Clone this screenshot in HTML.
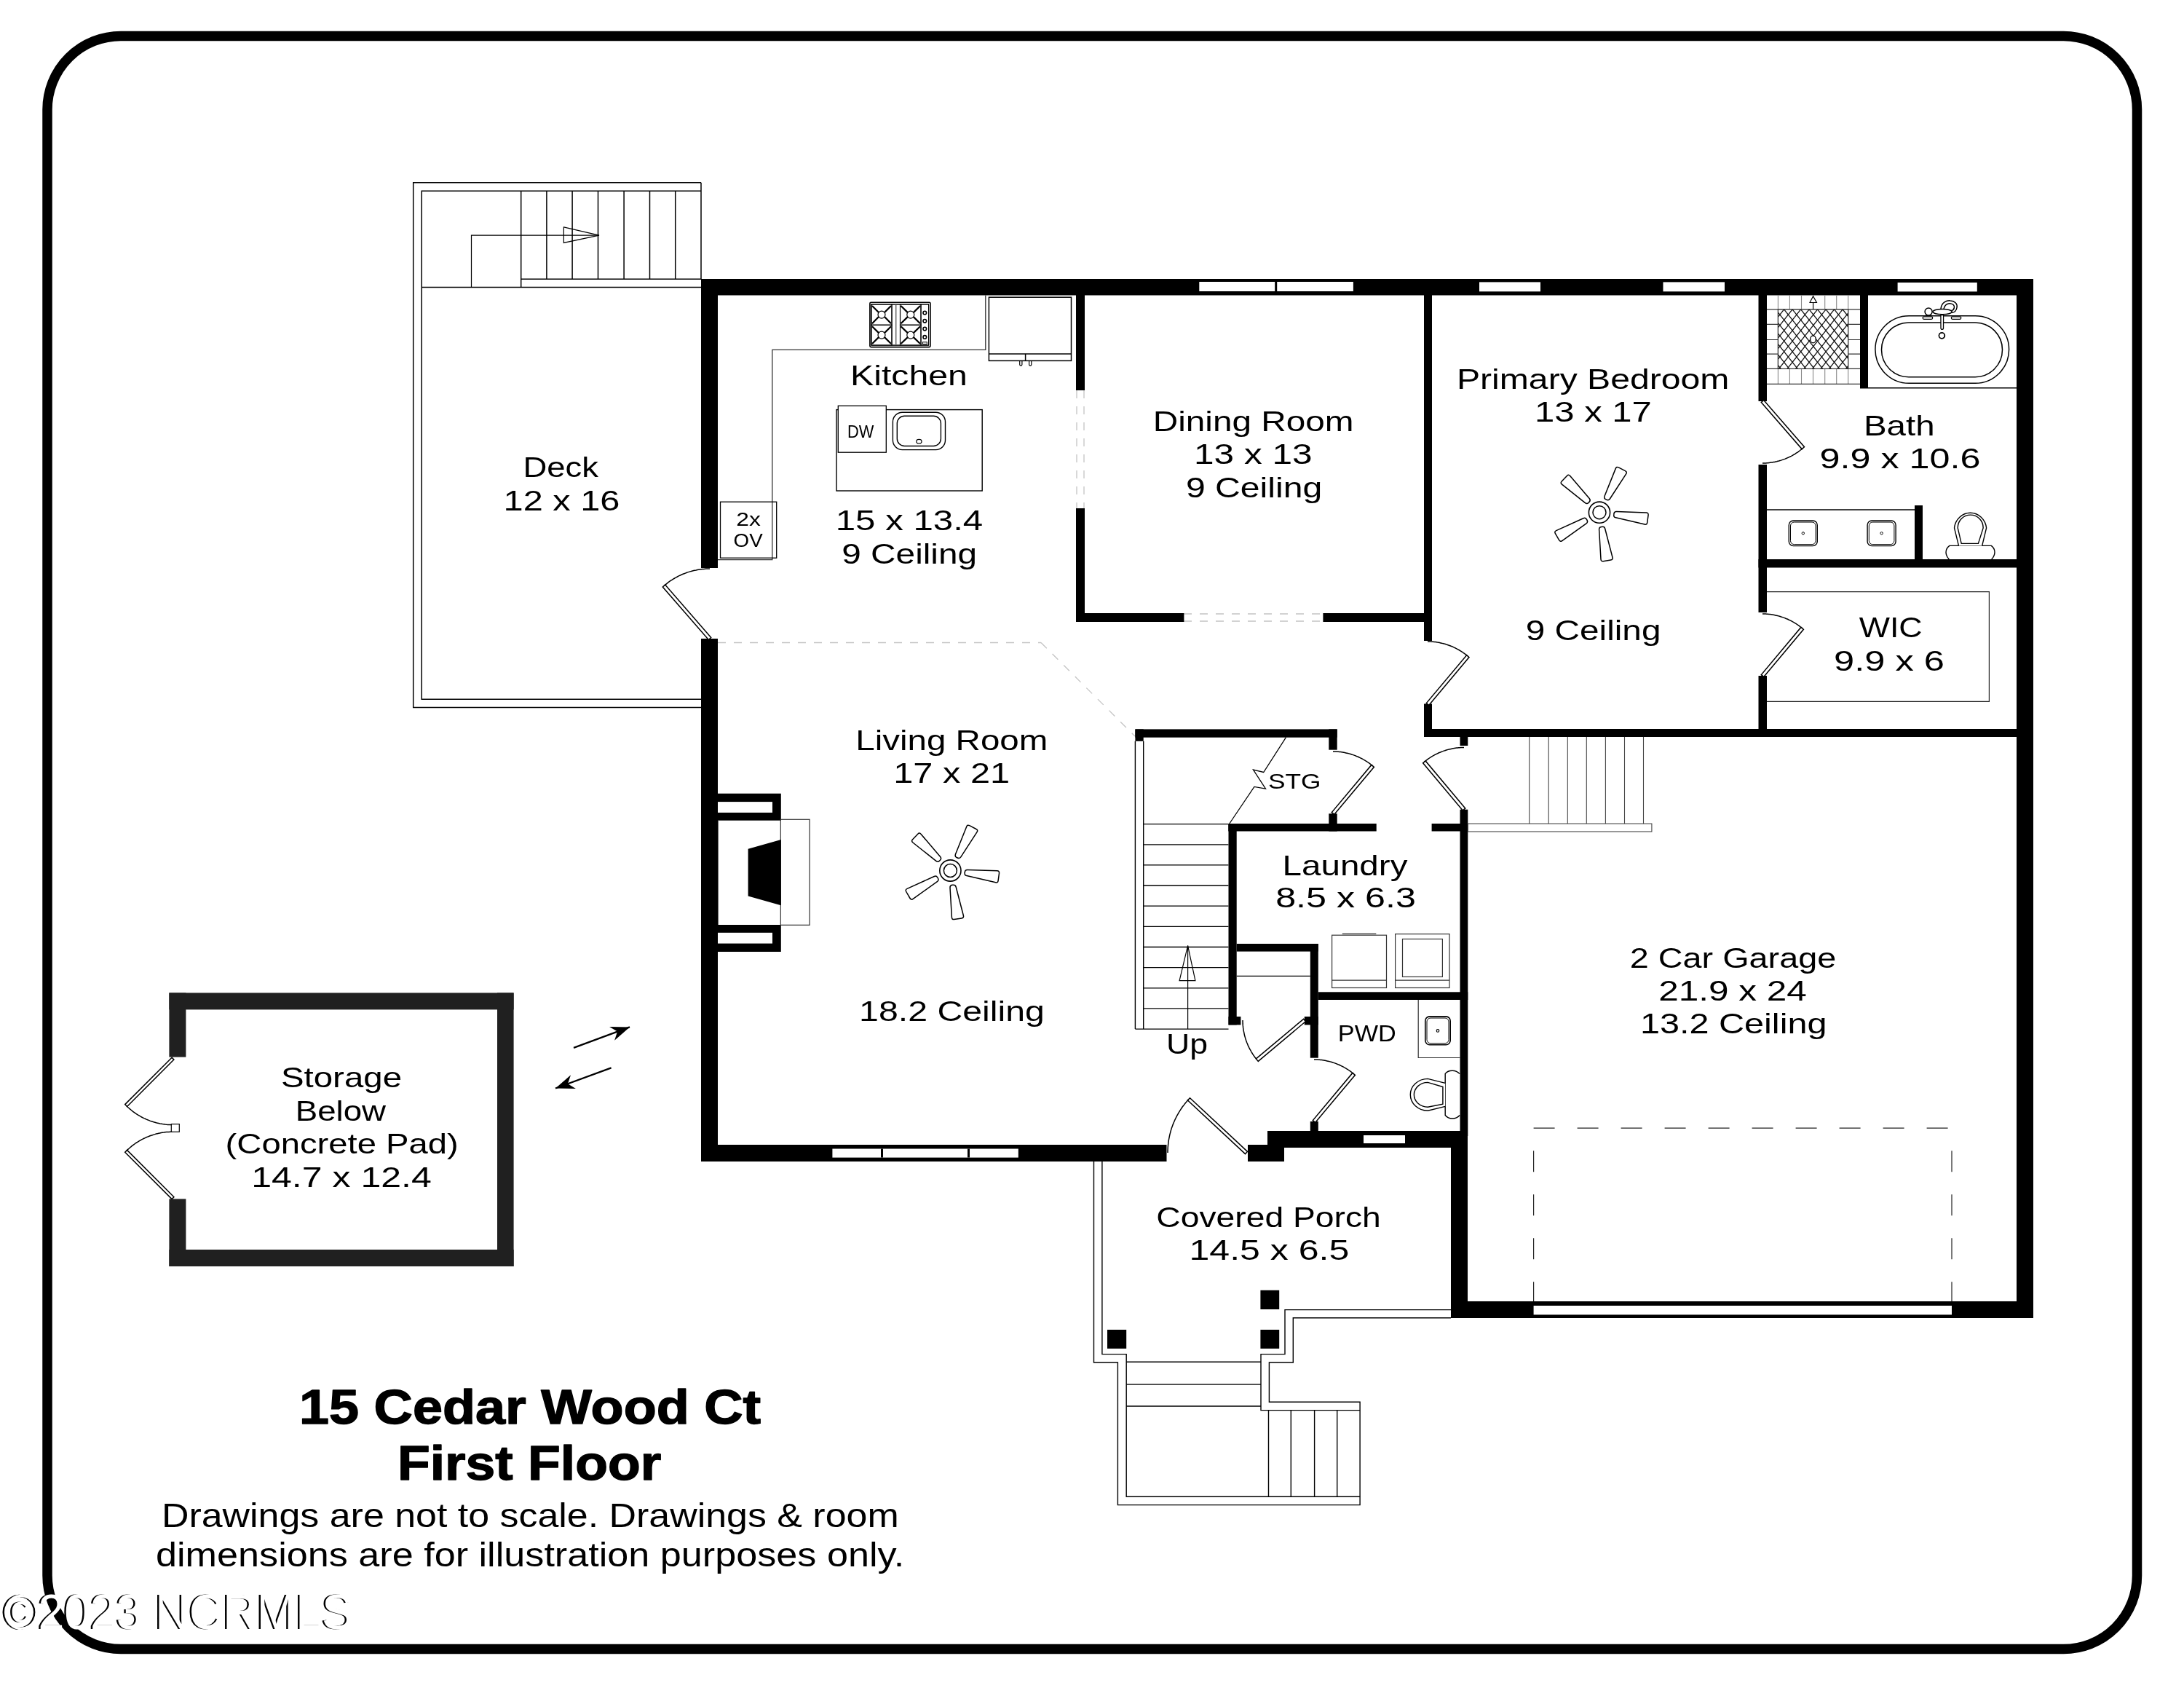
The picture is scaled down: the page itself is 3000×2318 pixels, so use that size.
<!DOCTYPE html>
<html><head><meta charset="utf-8"><title>15 Cedar Wood Ct - First Floor</title>
<style>
html,body{margin:0;padding:0;background:#fff;width:3000px;height:2318px;overflow:hidden;}
svg{display:block;position:absolute;left:0;top:0;filter:grayscale(1);}
text{font-family:"Liberation Sans",sans-serif;}
</style></head><body>
<svg width="3000" height="2318" viewBox="0 0 3000 2318">
<rect width="3000" height="2318" fill="#fff"/>
<rect x="65" y="49.5" width="2870.5" height="2215" rx="101" ry="101" fill="none" stroke="#000" stroke-width="13.5"/>
<polyline points="963,250.7 567.7,250.7 567.7,971.6 963,971.6" fill="none" stroke="#000" stroke-width="1.5" stroke-linejoin="miter"/>
<polyline points="963,262.2 579.2,262.2 579.2,960.2 963,960.2" fill="none" stroke="#000" stroke-width="1.5" stroke-linejoin="miter"/>
<line x1="963" y1="250.7" x2="963" y2="383" stroke="#000" stroke-width="1.5"/>
<line x1="715.7" y1="383.3" x2="963" y2="383.3" stroke="#000" stroke-width="1.5"/>
<line x1="579.2" y1="394.6" x2="963" y2="394.6" stroke="#000" stroke-width="1.5"/>
<line x1="715.7" y1="262.2" x2="715.7" y2="394.6" stroke="#000" stroke-width="1.5"/>
<line x1="750.9" y1="262.2" x2="750.9" y2="383.3" stroke="#000" stroke-width="1.5"/>
<line x1="786.1" y1="262.2" x2="786.1" y2="383.3" stroke="#000" stroke-width="1.5"/>
<line x1="821.5" y1="262.2" x2="821.5" y2="383.3" stroke="#000" stroke-width="1.5"/>
<line x1="857.1" y1="262.2" x2="857.1" y2="383.3" stroke="#000" stroke-width="1.5"/>
<line x1="892.5" y1="262.2" x2="892.5" y2="383.3" stroke="#000" stroke-width="1.5"/>
<line x1="927.7" y1="262.2" x2="927.7" y2="383.3" stroke="#000" stroke-width="1.5"/>
<polyline points="647.5,394.6 647.5,323.2 823,323.2" fill="none" stroke="#000" stroke-width="1.2" stroke-linejoin="miter"/>
<polygon points="774.4,311.9 823,323.2 774.4,333.4" fill="none" stroke="#000" stroke-width="1.2" stroke-linejoin="miter"/>
<line x1="986" y1="882.5" x2="1430" y2="882.5" stroke="#c4c4c4" stroke-width="1.3" stroke-dasharray="11 11"/>
<line x1="1430" y1="882.5" x2="1559" y2="1011" stroke="#c4c4c4" stroke-width="1.3" stroke-dasharray="11 11"/>
<line x1="1479" y1="536" x2="1479" y2="698" stroke="#c4c4c4" stroke-width="1.3" stroke-dasharray="11 11"/>
<line x1="1489" y1="536" x2="1489" y2="698" stroke="#c4c4c4" stroke-width="1.3" stroke-dasharray="11 11"/>
<line x1="1626" y1="843" x2="1817" y2="843" stroke="#c4c4c4" stroke-width="1.3" stroke-dasharray="11 11"/>
<line x1="1626" y1="853" x2="1817" y2="853" stroke="#c4c4c4" stroke-width="1.3" stroke-dasharray="11 11"/>
<rect x="963" y="383" width="1830" height="22.5" fill="#000"/>
<rect x="963" y="383" width="23" height="397" fill="#000"/>
<rect x="963" y="877" width="23" height="718" fill="#000"/>
<rect x="963" y="1572" width="639.5" height="23" fill="#000"/>
<rect x="1714" y="1572" width="50" height="23" fill="#000"/>
<rect x="1741" y="1553" width="275" height="23" fill="#000"/>
<rect x="1993" y="1553" width="23" height="257" fill="#000"/>
<rect x="1993" y="1787" width="800" height="23" fill="#000"/>
<rect x="2770" y="383" width="23" height="1427" fill="#000"/>
<rect x="1478" y="405" width="12" height="131" fill="#000"/>
<rect x="1478" y="698" width="12" height="156" fill="#000"/>
<rect x="1478" y="842" width="148.4" height="12" fill="#000"/>
<rect x="1817.4" y="842" width="149.6" height="12" fill="#000"/>
<rect x="1956" y="405" width="11" height="475" fill="#000"/>
<rect x="1956" y="966.5" width="11" height="45.5" fill="#000"/>
<rect x="1956" y="1001" width="837" height="11" fill="#000"/>
<rect x="2415.5" y="405" width="11.5" height="146" fill="#000"/>
<rect x="2415.5" y="638" width="11.5" height="203" fill="#000"/>
<rect x="2415.5" y="928" width="11.5" height="84" fill="#000"/>
<rect x="2415.5" y="768" width="377.5" height="11.5" fill="#000"/>
<rect x="2555" y="405" width="11" height="128.5" fill="#000"/>
<rect x="2630" y="694" width="11" height="85" fill="#000"/>
<rect x="1559.4" y="1001.4" width="277.3" height="11.3" fill="#000"/>
<rect x="1559.4" y="1001.4" width="11.3" height="16.4" fill="#000"/>
<rect x="1825.3" y="1001.4" width="11.4" height="28.3" fill="#000"/>
<rect x="1825.3" y="1117.3" width="11.4" height="24.2" fill="#000"/>
<rect x="1687.3" y="1131" width="203.4" height="10.5" fill="#000"/>
<rect x="1966.6" y="1131" width="49.7" height="10.5" fill="#000"/>
<rect x="1687.5" y="1131" width="11.2" height="276.4" fill="#000"/>
<rect x="1687.5" y="1396" width="16.9" height="11.4" fill="#000"/>
<rect x="2005.5" y="1001" width="10.8" height="23" fill="#000"/>
<rect x="2005.5" y="1111.7" width="10.8" height="448.3" fill="#000"/>
<rect x="1698.7" y="1296" width="112.1" height="10.6" fill="#000"/>
<rect x="1799.8" y="1296" width="11" height="156.7" fill="#000"/>
<rect x="1791.8" y="1396" width="19" height="11.4" fill="#000"/>
<rect x="1799.8" y="1540" width="11" height="16" fill="#000"/>
<rect x="1810.8" y="1362.3" width="205.5" height="10.7" fill="#000"/>
<rect x="1647.3" y="387" width="211.6" height="13" fill="#fff"/>
<rect x="1751.2" y="387" width="3" height="13" fill="#000"/>
<rect x="2032" y="387.4" width="84" height="12.9" fill="#fff"/>
<rect x="2284.5" y="387.4" width="84.5" height="12.9" fill="#fff"/>
<rect x="2606.6" y="388" width="109.2" height="12.4" fill="#fff"/>
<rect x="1143.4" y="1577.5" width="255.4" height="12.1" fill="#fff"/>
<rect x="1210" y="1577.5" width="3" height="12.1" fill="#000"/>
<rect x="1329" y="1577.5" width="3" height="12.1" fill="#000"/>
<rect x="1873" y="1559" width="57" height="11" fill="#fff"/>
<rect x="2106.6" y="1793" width="574.4" height="12.4" fill="#fff"/>
<polyline points="912,804.5 913.3,803.4 914.7,802.3 916,801.3 917.4,800.2 918.7,799.2 920.1,798.2 921.6,797.2 923,796.3 924.4,795.4 925.9,794.5 927.4,793.6 928.9,792.8 930.4,792 931.9,791.2 933.5,790.4 935,789.7 936.6,789 938.2,788.3 939.8,787.7 941.4,787.1 943,786.5 944.6,785.9 946.3,785.4 947.9,784.9 949.5,784.4 951.2,784 952.9,783.6 954.5,783.2 956.2,782.9 957.9,782.5 959.6,782.2 961.3,782 963,781.8 964.7,781.6 966.4,781.4 968.1,781.2 969.9,781.1 971.6,781.1 973.3,781 975,781" fill="none" stroke="#000" stroke-width="1.5" stroke-linejoin="miter"/>
<polygon points="976.7,875.5 913.7,803.1 910.3,806 973.3,878.5" fill="#fff" stroke="#000" stroke-width="1.5" stroke-linejoin="miter"/>
<polyline points="2016.3,901.1 2015.1,900.2 2013.9,899.2 2012.8,898.3 2011.5,897.4 2010.3,896.6 2009.1,895.7 2007.8,894.9 2006.6,894.1 2005.3,893.3 2004,892.5 2002.7,891.8 2001.4,891.1 2000,890.4 1998.7,889.7 1997.3,889.1 1996,888.4 1994.6,887.8 1993.2,887.3 1991.8,886.7 1990.4,886.2 1989,885.7 1987.6,885.2 1986.1,884.8 1984.7,884.3 1983.3,883.9 1981.8,883.6 1980.3,883.2 1978.9,882.9 1977.4,882.6 1975.9,882.3 1974.5,882.1 1973,881.8 1971.5,881.6 1970,881.5 1968.5,881.3 1967,881.2 1965.5,881.1 1964,881.1 1962.5,881 1961,881" fill="none" stroke="#000" stroke-width="1.5" stroke-linejoin="miter"/>
<polygon points="1962.7,968.4 2018,902.6 2014.6,899.7 1959.3,965.6" fill="#fff" stroke="#000" stroke-width="1.5" stroke-linejoin="miter"/>
<polyline points="2476.8,615.2 2475.6,616.1 2474.4,617.1 2473.2,618 2472,619 2470.8,619.9 2469.6,620.8 2468.3,621.6 2467,622.4 2465.8,623.3 2464.5,624 2463.1,624.8 2461.8,625.6 2460.5,626.3 2459.1,627 2457.8,627.6 2456.4,628.3 2455,628.9 2453.6,629.5 2452.2,630.1 2450.8,630.6 2449.3,631.1 2447.9,631.6 2446.5,632.1 2445,632.5 2443.5,633 2442.1,633.3 2440.6,633.7 2439.1,634 2437.6,634.4 2436.1,634.6 2434.6,634.9 2433.1,635.1 2431.6,635.3 2430.1,635.5 2428.6,635.7 2427.1,635.8 2425.6,635.9 2424,635.9 2422.5,636 2421,636" fill="none" stroke="#000" stroke-width="1.5" stroke-linejoin="miter"/>
<polygon points="2419.3,552.5 2475.1,616.6 2478.5,613.7 2422.7,549.5" fill="#fff" stroke="#000" stroke-width="1.5" stroke-linejoin="miter"/>
<polyline points="2475.6,862.9 2474.5,861.9 2473.3,861 2472.2,860.1 2471,859.2 2469.8,858.4 2468.5,857.5 2467.3,856.7 2466,855.9 2464.8,855.1 2463.5,854.4 2462.2,853.7 2460.9,852.9 2459.6,852.3 2458.3,851.6 2456.9,851 2455.6,850.3 2454.2,849.8 2452.8,849.2 2451.5,848.6 2450.1,848.1 2448.7,847.6 2447.3,847.2 2445.9,846.7 2444.4,846.3 2443,845.9 2441.6,845.5 2440.1,845.2 2438.7,844.9 2437.2,844.6 2435.8,844.3 2434.3,844 2432.8,843.8 2431.4,843.6 2429.9,843.5 2428.4,843.3 2426.9,843.2 2425.4,843.1 2424,843.1 2422.5,843 2421,843" fill="none" stroke="#000" stroke-width="1.5" stroke-linejoin="miter"/>
<polygon points="2422.7,929.4 2477.4,864.3 2473.9,861.4 2419.3,926.6" fill="#fff" stroke="#000" stroke-width="1.5" stroke-linejoin="miter"/>
<polyline points="1885.6,1051.9 1884.5,1050.9 1883.3,1050 1882.2,1049.1 1881,1048.2 1879.8,1047.4 1878.5,1046.5 1877.3,1045.7 1876,1044.9 1874.8,1044.1 1873.5,1043.4 1872.2,1042.7 1870.9,1041.9 1869.6,1041.3 1868.3,1040.6 1866.9,1040 1865.6,1039.3 1864.2,1038.8 1862.8,1038.2 1861.5,1037.6 1860.1,1037.1 1858.7,1036.6 1857.3,1036.2 1855.9,1035.7 1854.4,1035.3 1853,1034.9 1851.6,1034.5 1850.1,1034.2 1848.7,1033.9 1847.2,1033.6 1845.8,1033.3 1844.3,1033 1842.8,1032.8 1841.4,1032.6 1839.9,1032.5 1838.4,1032.3 1836.9,1032.2 1835.4,1032.1 1834,1032.1 1832.5,1032 1831,1032" fill="none" stroke="#000" stroke-width="1.5" stroke-linejoin="miter"/>
<polygon points="1832.7,1118.4 1887.4,1053.3 1883.9,1050.4 1829.3,1115.6" fill="#fff" stroke="#000" stroke-width="1.5" stroke-linejoin="miter"/>
<polyline points="1956.4,1046.4 1957.5,1045.4 1958.7,1044.5 1959.8,1043.6 1961,1042.7 1962.2,1041.9 1963.5,1041 1964.7,1040.2 1966,1039.4 1967.2,1038.6 1968.5,1037.9 1969.8,1037.2 1971.1,1036.4 1972.4,1035.8 1973.7,1035.1 1975.1,1034.5 1976.4,1033.8 1977.8,1033.3 1979.2,1032.7 1980.5,1032.1 1981.9,1031.6 1983.3,1031.1 1984.7,1030.7 1986.1,1030.2 1987.6,1029.8 1989,1029.4 1990.4,1029 1991.9,1028.7 1993.3,1028.4 1994.8,1028.1 1996.2,1027.8 1997.7,1027.5 1999.2,1027.3 2000.6,1027.1 2002.1,1027 2003.6,1026.8 2005.1,1026.7 2006.6,1026.6 2008,1026.6 2009.5,1026.5 2011,1026.5" fill="none" stroke="#000" stroke-width="1.5" stroke-linejoin="miter"/>
<polygon points="2012.7,1110.1 1958.1,1044.9 1954.6,1047.8 2009.3,1112.9" fill="#fff" stroke="#000" stroke-width="1.5" stroke-linejoin="miter"/>
<polyline points="1726.9,1455.6 1725.9,1454.5 1725,1453.3 1724.1,1452.2 1723.2,1451 1722.4,1449.8 1721.5,1448.5 1720.7,1447.3 1719.9,1446 1719.1,1444.8 1718.4,1443.5 1717.7,1442.2 1716.9,1440.9 1716.3,1439.6 1715.6,1438.3 1715,1436.9 1714.3,1435.6 1713.8,1434.2 1713.2,1432.8 1712.6,1431.5 1712.1,1430.1 1711.6,1428.7 1711.2,1427.3 1710.7,1425.9 1710.3,1424.4 1709.9,1423 1709.5,1421.6 1709.2,1420.1 1708.9,1418.7 1708.6,1417.2 1708.3,1415.8 1708,1414.3 1707.8,1412.8 1707.6,1411.4 1707.5,1409.9 1707.3,1408.4 1707.2,1406.9 1707.1,1405.4 1707.1,1404 1707,1402.5 1707,1401" fill="none" stroke="#000" stroke-width="1.5" stroke-linejoin="miter"/>
<polygon points="1790.6,1399.3 1725.4,1453.9 1728.3,1457.4 1793.4,1402.7" fill="#fff" stroke="#000" stroke-width="1.5" stroke-linejoin="miter"/>
<polyline points="1859.6,1474.9 1858.5,1473.9 1857.3,1473 1856.2,1472.1 1855,1471.2 1853.8,1470.4 1852.5,1469.5 1851.3,1468.7 1850,1467.9 1848.8,1467.1 1847.5,1466.4 1846.2,1465.7 1844.9,1464.9 1843.6,1464.3 1842.3,1463.6 1840.9,1463 1839.6,1462.3 1838.2,1461.8 1836.8,1461.2 1835.5,1460.6 1834.1,1460.1 1832.7,1459.6 1831.3,1459.2 1829.9,1458.7 1828.4,1458.3 1827,1457.9 1825.6,1457.5 1824.1,1457.2 1822.7,1456.9 1821.2,1456.6 1819.8,1456.3 1818.3,1456 1816.8,1455.8 1815.4,1455.6 1813.9,1455.5 1812.4,1455.3 1810.9,1455.2 1809.4,1455.1 1808,1455.1 1806.5,1455 1805,1455" fill="none" stroke="#000" stroke-width="1.5" stroke-linejoin="miter"/>
<polygon points="1806.7,1541.4 1861.4,1476.3 1857.9,1473.4 1803.3,1538.6" fill="#fff" stroke="#000" stroke-width="1.5" stroke-linejoin="miter"/>
<polyline points="1633,1509.3 1631.6,1510.8 1630.3,1512.4 1629,1513.9 1627.7,1515.5 1626.5,1517.1 1625.2,1518.7 1624,1520.3 1622.9,1522 1621.8,1523.7 1620.7,1525.4 1619.6,1527.1 1618.6,1528.8 1617.6,1530.6 1616.6,1532.4 1615.7,1534.2 1614.8,1536 1613.9,1537.8 1613.1,1539.7 1612.3,1541.5 1611.5,1543.4 1610.8,1545.3 1610.1,1547.2 1609.4,1549.1 1608.8,1551.1 1608.2,1553 1607.7,1555 1607.2,1556.9 1606.7,1558.9 1606.3,1560.9 1605.9,1562.9 1605.5,1564.8 1605.2,1566.9 1604.9,1568.9 1604.7,1570.9 1604.5,1572.9 1604.3,1574.9 1604.2,1576.9 1604.1,1578.9 1604,1581 1604,1583" fill="none" stroke="#000" stroke-width="1.5" stroke-linejoin="miter"/>
<polygon points="1713.5,1581.4 1634.5,1507.7 1631.5,1511 1710.5,1584.6" fill="#fff" stroke="#000" stroke-width="1.5" stroke-linejoin="miter"/>
<polyline points="173.2,1518 174.4,1519.3 175.7,1520.5 177.1,1521.7 178.4,1522.9 179.8,1524 181.2,1525.2 182.6,1526.3 184,1527.3 185.5,1528.4 186.9,1529.4 188.4,1530.3 190,1531.3 191.5,1532.2 193,1533.1 194.6,1534 196.2,1534.8 197.8,1535.6 199.4,1536.3 201,1537.1 202.7,1537.8 204.3,1538.4 206,1539.1 207.7,1539.7 209.4,1540.2 211.1,1540.8 212.8,1541.3 214.5,1541.8 216.3,1542.2 218,1542.6 219.7,1543 221.5,1543.3 223.3,1543.6 225,1543.8 226.8,1544.1 228.6,1544.3 230.4,1544.4 232.1,1544.5 233.9,1544.6 235.7,1544.7 237.5,1544.7" fill="none" stroke="#000" stroke-width="1.5" stroke-linejoin="miter"/>
<polygon points="236.1,1452.3 171.7,1516.6 174.6,1519.5 238.9,1455.1" fill="#fff" stroke="#000" stroke-width="1.5" stroke-linejoin="miter"/>
<polyline points="173.2,1580.9 174.4,1579.6 175.7,1578.4 177.1,1577.2 178.4,1576 179.8,1574.9 181.2,1573.7 182.6,1572.6 184,1571.6 185.5,1570.5 186.9,1569.5 188.4,1568.6 190,1567.6 191.5,1566.7 193,1565.8 194.6,1564.9 196.2,1564.1 197.8,1563.3 199.4,1562.6 201,1561.8 202.7,1561.1 204.3,1560.5 206,1559.8 207.7,1559.2 209.4,1558.7 211.1,1558.1 212.8,1557.6 214.5,1557.1 216.3,1556.7 218,1556.3 219.7,1555.9 221.5,1555.6 223.3,1555.3 225,1555.1 226.8,1554.8 228.6,1554.6 230.4,1554.5 232.1,1554.4 233.9,1554.3 235.7,1554.2 237.5,1554.2" fill="none" stroke="#000" stroke-width="1.5" stroke-linejoin="miter"/>
<polygon points="238.9,1643.8 174.6,1579.4 171.7,1582.3 236.1,1646.6" fill="#fff" stroke="#000" stroke-width="1.5" stroke-linejoin="miter"/>
<rect x="235.3" y="1543.6" width="11" height="10.7" fill="#fff" stroke="#000" stroke-width="1.2"/>
<polyline points="1353.8,405.5 1353.8,480.3 1060.8,480.3 1060.8,768.7 986,768.7" fill="none" stroke="#333" stroke-width="1.3" stroke-linejoin="miter"/>
<rect x="1194.9" y="415.3" width="83.1" height="61.3" rx="1.5" fill="none" stroke="#000" stroke-width="1.6"/>
<rect x="1196.8" y="417.8" width="78.8" height="56.4" fill="none" stroke="#000" stroke-width="1.0"/>
<rect x="1197" y="418" width="28" height="28.3" fill="none" stroke="#000" stroke-width="1.2"/>
<line x1="1198" y1="420" x2="1207" y2="429.1" stroke="#000" stroke-width="2.2"/>
<line x1="1224" y1="420" x2="1215" y2="429.1" stroke="#000" stroke-width="2.2"/>
<line x1="1198" y1="444.3" x2="1207" y2="435.1" stroke="#000" stroke-width="2.2"/>
<line x1="1224" y1="444.3" x2="1215" y2="435.1" stroke="#000" stroke-width="2.2"/>
<circle cx="1211" cy="432.1" r="5" fill="none" stroke="#000" stroke-width="1.2"/>
<rect x="1197" y="446.3" width="28" height="27.7" fill="none" stroke="#000" stroke-width="1.2"/>
<line x1="1198" y1="448.3" x2="1207" y2="457.1" stroke="#000" stroke-width="2.2"/>
<line x1="1224" y1="448.3" x2="1215" y2="457.1" stroke="#000" stroke-width="2.2"/>
<line x1="1198" y1="472" x2="1207" y2="463.1" stroke="#000" stroke-width="2.2"/>
<line x1="1224" y1="472" x2="1215" y2="463.1" stroke="#000" stroke-width="2.2"/>
<circle cx="1211" cy="460.1" r="5" fill="none" stroke="#000" stroke-width="1.2"/>
<rect x="1236.5" y="418" width="28.5" height="28.3" fill="none" stroke="#000" stroke-width="1.2"/>
<line x1="1237.5" y1="420" x2="1246.8" y2="429.1" stroke="#000" stroke-width="2.2"/>
<line x1="1264" y1="420" x2="1254.8" y2="429.1" stroke="#000" stroke-width="2.2"/>
<line x1="1237.5" y1="444.3" x2="1246.8" y2="435.1" stroke="#000" stroke-width="2.2"/>
<line x1="1264" y1="444.3" x2="1254.8" y2="435.1" stroke="#000" stroke-width="2.2"/>
<circle cx="1250.8" cy="432.1" r="5" fill="none" stroke="#000" stroke-width="1.2"/>
<rect x="1236.5" y="446.3" width="28.5" height="27.7" fill="none" stroke="#000" stroke-width="1.2"/>
<line x1="1237.5" y1="448.3" x2="1246.8" y2="457.1" stroke="#000" stroke-width="2.2"/>
<line x1="1264" y1="448.3" x2="1254.8" y2="457.1" stroke="#000" stroke-width="2.2"/>
<line x1="1237.5" y1="472" x2="1246.8" y2="463.1" stroke="#000" stroke-width="2.2"/>
<line x1="1264" y1="472" x2="1254.8" y2="463.1" stroke="#000" stroke-width="2.2"/>
<circle cx="1250.8" cy="460.1" r="5" fill="none" stroke="#000" stroke-width="1.2"/>
<rect x="1225" y="418" width="11.5" height="56" fill="none" stroke="#000" stroke-width="1.0"/>
<line x1="1230.7" y1="418" x2="1230.7" y2="474" stroke="#666" stroke-width="1.5"/>
<rect x="1265" y="418" width="10.6" height="56" fill="none" stroke="#000" stroke-width="1.0"/>
<circle cx="1270.3" cy="429.5" r="2.3" fill="none" stroke="#000" stroke-width="1.6"/>
<circle cx="1270.3" cy="440.8" r="2.3" fill="none" stroke="#000" stroke-width="1.6"/>
<circle cx="1270.3" cy="451.6" r="2.3" fill="none" stroke="#000" stroke-width="1.6"/>
<circle cx="1270.3" cy="462.9" r="2.3" fill="none" stroke="#000" stroke-width="1.6"/>
<rect x="1267.5" y="469.8" width="5.8" height="2.8" fill="none" stroke="#000" stroke-width="1.0"/>
<rect x="1358.4" y="408.2" width="113.1" height="87.2" fill="none" stroke="#000" stroke-width="1.5"/>
<line x1="1358.4" y1="485.9" x2="1471.5" y2="485.9" stroke="#000" stroke-width="1.5"/>
<line x1="1408.6" y1="485.9" x2="1408.6" y2="495.4" stroke="#000" stroke-width="1.5"/>
<path d="M1400.7,495.4 L1400.7,500.5 A1.6,1.6 0 0 0 1403.8999999999999,500.5 L1403.8999999999999,495.4" fill="none" stroke="#000" stroke-width="1.2"/>
<path d="M1413.6000000000001,495.4 L1413.6000000000001,500.5 A1.6,1.6 0 0 0 1416.8,500.5 L1416.8,495.4" fill="none" stroke="#000" stroke-width="1.2"/>
<rect x="1149" y="562.6" width="200.2" height="111.4" fill="none" stroke="#000" stroke-width="1.4"/>
<rect x="1151.3" y="557.3" width="66" height="63.9" fill="#fff" stroke="#000" stroke-width="1.3"/>
<rect x="1226.4" y="566.2" width="72.1" height="51.4" rx="13" fill="none" stroke="#000" stroke-width="1.4"/>
<rect x="1232.3" y="571.3" width="60.1" height="41.2" rx="10" fill="none" stroke="#000" stroke-width="1.4"/>
<ellipse cx="1262.4" cy="606.2" rx="3.6" ry="2.8" fill="none" stroke="#000" stroke-width="1.2"/>
<rect x="989.5" y="689.2" width="77.2" height="77" fill="none" stroke="#000" stroke-width="1.3"/>
<line x1="2442.4" y1="405.5" x2="2442.4" y2="527.3" stroke="#888" stroke-width="1.1"/>
<line x1="2458.4" y1="405.5" x2="2458.4" y2="527.3" stroke="#888" stroke-width="1.1"/>
<line x1="2474.5" y1="405.5" x2="2474.5" y2="527.3" stroke="#888" stroke-width="1.1"/>
<line x1="2490.5" y1="405.5" x2="2490.5" y2="527.3" stroke="#888" stroke-width="1.1"/>
<line x1="2506.7" y1="405.5" x2="2506.7" y2="527.3" stroke="#888" stroke-width="1.1"/>
<line x1="2522.7" y1="405.5" x2="2522.7" y2="527.3" stroke="#888" stroke-width="1.1"/>
<line x1="2538.7" y1="405.5" x2="2538.7" y2="527.3" stroke="#888" stroke-width="1.1"/>
<line x1="2427" y1="424.9" x2="2555" y2="424.9" stroke="#333" stroke-width="1.2"/>
<line x1="2427" y1="445.4" x2="2555" y2="445.4" stroke="#333" stroke-width="1.2"/>
<line x1="2427" y1="466.5" x2="2555" y2="466.5" stroke="#333" stroke-width="1.2"/>
<line x1="2427" y1="486.2" x2="2555" y2="486.2" stroke="#333" stroke-width="1.2"/>
<line x1="2427" y1="506.4" x2="2555" y2="506.4" stroke="#333" stroke-width="1.2"/>
<line x1="2427" y1="527.3" x2="2555" y2="527.3" stroke="#333" stroke-width="1.2"/>
<clipPath id="sh"><rect x="2442.4" y="424.9" width="96.3" height="81.5"/></clipPath>
<rect x="2442.4" y="424.9" width="96.3" height="81.5" fill="#fff"/>
<g clip-path="url(#sh)" stroke="#111" stroke-width="1.3"><line x1="2312.6" y1="424.9" x2="2457" y2="607"/><line x1="2312.6" y1="424.9" x2="2168.2" y2="607"/><line x1="2324.1" y1="424.9" x2="2468.5" y2="607"/><line x1="2324.1" y1="424.9" x2="2179.7" y2="607"/><line x1="2335.6" y1="424.9" x2="2480" y2="607"/><line x1="2335.6" y1="424.9" x2="2191.2" y2="607"/><line x1="2347.1" y1="424.9" x2="2491.5" y2="607"/><line x1="2347.1" y1="424.9" x2="2202.7" y2="607"/><line x1="2358.6" y1="424.9" x2="2503" y2="607"/><line x1="2358.6" y1="424.9" x2="2214.2" y2="607"/><line x1="2370.1" y1="424.9" x2="2514.5" y2="607"/><line x1="2370.1" y1="424.9" x2="2225.7" y2="607"/><line x1="2381.6" y1="424.9" x2="2526" y2="607"/><line x1="2381.6" y1="424.9" x2="2237.2" y2="607"/><line x1="2393.1" y1="424.9" x2="2537.5" y2="607"/><line x1="2393.1" y1="424.9" x2="2248.7" y2="607"/><line x1="2404.6" y1="424.9" x2="2549" y2="607"/><line x1="2404.6" y1="424.9" x2="2260.2" y2="607"/><line x1="2416.1" y1="424.9" x2="2560.5" y2="607"/><line x1="2416.1" y1="424.9" x2="2271.7" y2="607"/><line x1="2427.6" y1="424.9" x2="2572" y2="607"/><line x1="2427.6" y1="424.9" x2="2283.2" y2="607"/><line x1="2439.1" y1="424.9" x2="2583.5" y2="607"/><line x1="2439.1" y1="424.9" x2="2294.7" y2="607"/><line x1="2450.6" y1="424.9" x2="2595" y2="607"/><line x1="2450.6" y1="424.9" x2="2306.2" y2="607"/><line x1="2462.1" y1="424.9" x2="2606.5" y2="607"/><line x1="2462.1" y1="424.9" x2="2317.7" y2="607"/><line x1="2473.6" y1="424.9" x2="2618" y2="607"/><line x1="2473.6" y1="424.9" x2="2329.2" y2="607"/><line x1="2485.1" y1="424.9" x2="2629.5" y2="607"/><line x1="2485.1" y1="424.9" x2="2340.7" y2="607"/><line x1="2496.6" y1="424.9" x2="2641" y2="607"/><line x1="2496.6" y1="424.9" x2="2352.2" y2="607"/><line x1="2508.1" y1="424.9" x2="2652.5" y2="607"/><line x1="2508.1" y1="424.9" x2="2363.7" y2="607"/><line x1="2519.6" y1="424.9" x2="2664" y2="607"/><line x1="2519.6" y1="424.9" x2="2375.2" y2="607"/><line x1="2531.1" y1="424.9" x2="2675.5" y2="607"/><line x1="2531.1" y1="424.9" x2="2386.7" y2="607"/><line x1="2542.6" y1="424.9" x2="2687" y2="607"/><line x1="2542.6" y1="424.9" x2="2398.2" y2="607"/><line x1="2554.1" y1="424.9" x2="2698.5" y2="607"/><line x1="2554.1" y1="424.9" x2="2409.7" y2="607"/><line x1="2565.6" y1="424.9" x2="2710" y2="607"/><line x1="2565.6" y1="424.9" x2="2421.2" y2="607"/><line x1="2577.1" y1="424.9" x2="2721.5" y2="607"/><line x1="2577.1" y1="424.9" x2="2432.7" y2="607"/><line x1="2588.6" y1="424.9" x2="2733" y2="607"/><line x1="2588.6" y1="424.9" x2="2444.2" y2="607"/><line x1="2600.1" y1="424.9" x2="2744.5" y2="607"/><line x1="2600.1" y1="424.9" x2="2455.7" y2="607"/></g>
<rect x="2442.4" y="424.9" width="96.3" height="81.5" fill="none" stroke="#333" stroke-width="1.2"/>
<ellipse cx="2490.5" cy="465.9" rx="3.8" ry="4.9" fill="#fff" stroke="#000" stroke-width="1.3"/>
<polygon points="2486,415.5 2490.6,406.8 2495.4,415.5" fill="#fff" stroke="#000" stroke-width="1.2" stroke-linejoin="miter"/>
<line x1="2490.6" y1="415.5" x2="2490.6" y2="424.9" stroke="#000" stroke-width="1.1"/>
<rect x="2575.9" y="433.7" width="183.7" height="92.6" rx="46.3" fill="none" stroke="#000" stroke-width="1.5"/>
<rect x="2584.5" y="442.9" width="166" height="74.8" rx="37.4" fill="none" stroke="#000" stroke-width="1.5"/>
<line x1="2566" y1="532.8" x2="2770" y2="532.8" stroke="#000" stroke-width="1.4"/>
<circle cx="2667.2" cy="460.8" r="3.9" fill="none" stroke="#000" stroke-width="1.3"/>
<circle cx="2667.5" cy="461" r="4" fill="none" stroke="#000" stroke-width="1.4"/>
<path d="M2666,451 L2665.9,432.5 L2669.6,432.5 L2669.5,451 A1.8,1.8 0 0 1 2666,451 Z" fill="#fff" stroke="#000" stroke-width="1.3"/>
<ellipse cx="2668.1" cy="428.1" rx="13.1" ry="3.7" fill="#fff" stroke="#000" stroke-width="1.5"/>
<circle cx="2649.1" cy="428.1" r="5" fill="#fff" stroke="#000" stroke-width="1.5"/>
<path d="M2666,424 C2667,415 2674,412.5 2679,412.9 C2685,413.2 2689,417 2688.1,422 C2687.5,426 2684.5,429 2681.2,429.6" fill="none" stroke="#000" stroke-width="1.5"/>
<path d="M2670,424 C2671,419 2675,416.5 2678.5,416.7 C2682.5,417 2685,419.5 2684.4,422.5 C2684,424.5 2682.5,426.2 2680.5,426.6" fill="none" stroke="#000" stroke-width="1.5"/>
<rect x="2641.2" y="434.8" width="13.4" height="3.5" rx="1.5" fill="#fff" stroke="#000" stroke-width="1.3"/>
<rect x="2680.4" y="434.8" width="13.3" height="3.5" rx="1.5" fill="#fff" stroke="#000" stroke-width="1.3"/>
<line x1="2427" y1="700" x2="2630.6" y2="700" stroke="#000" stroke-width="1.4"/>
<rect x="2457.3" y="715" width="39" height="34.6" rx="6" fill="none" stroke="#000" stroke-width="1.4"/>
<rect x="2459.5" y="717" width="34.6" height="30.6" rx="5" fill="none" stroke="#000" stroke-width="1.0"/>
<circle cx="2476.8" cy="732.3" r="1.7" fill="none" stroke="#000" stroke-width="1.0"/>
<rect x="2565.1" y="715" width="39" height="34.6" rx="6" fill="none" stroke="#000" stroke-width="1.4"/>
<rect x="2567.3" y="717" width="34.6" height="30.6" rx="5" fill="none" stroke="#000" stroke-width="1.0"/>
<circle cx="2584.6" cy="732.3" r="1.7" fill="none" stroke="#000" stroke-width="1.0"/>
<path d="M2677.3,768 C2671.5,762 2671.5,754 2677.9,749.4 L2735.3,749.4 C2741.5,754 2741.5,762 2735.7,768" fill="#fff" stroke="#000" stroke-width="1.4"/>
<path d="M2690.5,749.4 L2684.5,725 A22.2,23.4 0 0 1 2728.6,725 L2722.7,749.4" fill="#fff" stroke="#000" stroke-width="1.4"/>
<path d="M2694.2,746.4 L2689.2,725 A17.5,17.9 0 0 1 2724.2,725 L2717.4,746.4 Z" fill="none" stroke="#000" stroke-width="1.4"/>
<polyline points="2427,812.6 2732.4,812.6 2732.4,963.3 2427,963.3" fill="none" stroke="#222" stroke-width="1.2" stroke-linejoin="miter"/>
<path d="M2183,689.4 Q2185.3,687.1 2183.2,684.6 L2156.7,653.6 Q2154.6,651.1 2152.4,653.4 L2145.2,660.9 Q2143,663.2 2145.5,665.2 L2177.5,690.6 Q2180,692.5 2182.2,690.2 Z" fill="#fff" stroke="#000" stroke-width="1.5"/>
<path d="M2206.8,686.2 Q2209.6,687.7 2211.4,685 L2233.6,650.8 Q2235.4,648.1 2232.5,646.7 L2223.3,641.9 Q2220.5,640.4 2219.3,643.4 L2204.1,681.2 Q2202.9,684.2 2205.7,685.7 Z" fill="#fff" stroke="#000" stroke-width="1.5"/>
<path d="M2216.8,706.9 Q2216.3,710.1 2219.4,710.8 L2259.2,720 Q2262.3,720.8 2262.7,717.6 L2264.1,707.3 Q2264.5,704.1 2261.3,704 L2220.5,702.6 Q2217.3,702.5 2216.9,705.7 Z" fill="#fff" stroke="#000" stroke-width="1.5"/>
<path d="M2199.5,723.5 Q2196.4,724 2196.6,727.2 L2199,768 Q2199.2,771.2 2202.3,770.7 L2212.6,769.1 Q2215.8,768.6 2215,765.5 L2204.7,726 Q2203.9,722.9 2200.7,723.4 Z" fill="#fff" stroke="#000" stroke-width="1.5"/>
<path d="M2179.4,713.2 Q2177.8,710.4 2174.9,711.7 L2137.7,728.6 Q2134.8,729.9 2136.4,732.7 L2141.6,741.7 Q2143.2,744.5 2145.8,742.6 L2179,718.9 Q2181.6,717 2180,714.2 Z" fill="#fff" stroke="#000" stroke-width="1.5"/>
<circle cx="2197" cy="703.7" r="14.6" fill="#fff" stroke="#000" stroke-width="1.6"/>
<circle cx="2197" cy="703.7" r="9" fill="none" stroke="#000" stroke-width="1.5"/>
<path d="M1291.4,1181.2 Q1293.7,1178.9 1291.6,1176.4 L1265.1,1145.4 Q1263,1142.9 1260.8,1145.2 L1253.6,1152.7 Q1251.4,1155 1253.9,1157 L1285.9,1182.4 Q1288.4,1184.3 1290.6,1182 Z" fill="#fff" stroke="#000" stroke-width="1.5"/>
<path d="M1315.2,1178 Q1318,1179.5 1319.8,1176.8 L1342,1142.6 Q1343.8,1139.9 1340.9,1138.5 L1331.7,1133.7 Q1328.9,1132.2 1327.7,1135.2 L1312.5,1173 Q1311.3,1176 1314.1,1177.5 Z" fill="#fff" stroke="#000" stroke-width="1.5"/>
<path d="M1325.2,1198.7 Q1324.7,1201.9 1327.8,1202.6 L1367.6,1211.8 Q1370.7,1212.6 1371.1,1209.4 L1372.5,1199.1 Q1372.9,1195.9 1369.7,1195.8 L1328.9,1194.4 Q1325.7,1194.3 1325.3,1197.5 Z" fill="#fff" stroke="#000" stroke-width="1.5"/>
<path d="M1307.9,1215.3 Q1304.8,1215.8 1305,1219 L1307.4,1259.8 Q1307.6,1263 1310.7,1262.5 L1321,1260.9 Q1324.2,1260.4 1323.4,1257.3 L1313.1,1217.8 Q1312.3,1214.7 1309.1,1215.2 Z" fill="#fff" stroke="#000" stroke-width="1.5"/>
<path d="M1287.8,1205 Q1286.2,1202.2 1283.3,1203.5 L1246.1,1220.4 Q1243.2,1221.7 1244.8,1224.5 L1250,1233.5 Q1251.6,1236.3 1254.2,1234.4 L1287.4,1210.7 Q1290,1208.8 1288.4,1206 Z" fill="#fff" stroke="#000" stroke-width="1.5"/>
<circle cx="1305.4" cy="1195.5" r="14.6" fill="#fff" stroke="#000" stroke-width="1.6"/>
<circle cx="1305.4" cy="1195.5" r="9" fill="none" stroke="#000" stroke-width="1.5"/>
<rect x="986" y="1089.7" width="86.8" height="37" fill="#000"/>
<rect x="986" y="1101.1" width="75" height="14.8" fill="#fff"/>
<rect x="986" y="1270" width="86.8" height="37" fill="#000"/>
<rect x="986" y="1280.8" width="75" height="14.8" fill="#fff"/>
<line x1="986" y1="1126.7" x2="986" y2="1270" stroke="#000" stroke-width="1.2"/>
<rect x="1072.3" y="1125.3" width="39.8" height="145" fill="none" stroke="#333" stroke-width="1.2"/>
<polygon points="1027.6,1165.7 1072.8,1152.9 1072.8,1243.3 1027.6,1230.5" fill="#000" stroke="#000" stroke-width="0" stroke-linejoin="miter"/>
<line x1="1559.4" y1="1017.8" x2="1559.4" y2="1413.1" stroke="#000" stroke-width="1.4"/>
<line x1="1570.7" y1="1017.8" x2="1570.7" y2="1413.1" stroke="#000" stroke-width="1.4"/>
<line x1="1559.4" y1="1413.1" x2="1687.5" y2="1413.1" stroke="#000" stroke-width="1.4"/>
<line x1="1570.7" y1="1131.6" x2="1687.5" y2="1131.6" stroke="#000" stroke-width="1.3"/>
<line x1="1570.7" y1="1159.8" x2="1687.5" y2="1159.8" stroke="#000" stroke-width="1.3"/>
<line x1="1570.7" y1="1187.9" x2="1687.5" y2="1187.9" stroke="#000" stroke-width="1.3"/>
<line x1="1570.7" y1="1216" x2="1687.5" y2="1216" stroke="#000" stroke-width="1.3"/>
<line x1="1570.7" y1="1244.2" x2="1687.5" y2="1244.2" stroke="#000" stroke-width="1.3"/>
<line x1="1570.7" y1="1272.3" x2="1687.5" y2="1272.3" stroke="#000" stroke-width="1.3"/>
<line x1="1570.7" y1="1300.5" x2="1687.5" y2="1300.5" stroke="#000" stroke-width="1.3"/>
<line x1="1570.7" y1="1328.6" x2="1687.5" y2="1328.6" stroke="#000" stroke-width="1.3"/>
<line x1="1570.7" y1="1356.8" x2="1687.5" y2="1356.8" stroke="#000" stroke-width="1.3"/>
<line x1="1570.7" y1="1384.9" x2="1687.5" y2="1384.9" stroke="#000" stroke-width="1.3"/>
<line x1="1631.6" y1="1298.6" x2="1631.6" y2="1413.1" stroke="#000" stroke-width="1.2"/>
<polygon points="1620.1,1346.7 1631.6,1298.6 1641.9,1346.7" fill="none" stroke="#000" stroke-width="1.2" stroke-linejoin="miter"/>
<polyline points="1766.4,1012.7 1735.7,1060.5 1721.5,1057 1738.5,1083.2 1722.9,1080.4 1688.8,1131" fill="none" stroke="#000" stroke-width="1.3" stroke-linejoin="miter"/>
<rect x="1829.6" y="1284.2" width="74.9" height="72.3" fill="none" stroke="#333" stroke-width="1.2"/>
<line x1="1829.6" y1="1346.2" x2="1904.5" y2="1346.2" stroke="#333" stroke-width="1.2"/>
<line x1="1843.8" y1="1282.3" x2="1890.3" y2="1282.3" stroke="#333" stroke-width="1.2"/>
<rect x="1916.6" y="1282.6" width="74.4" height="73.9" fill="none" stroke="#333" stroke-width="1.2"/>
<line x1="1916.6" y1="1346.2" x2="1991" y2="1346.2" stroke="#333" stroke-width="1.2"/>
<rect x="1926.5" y="1289.5" width="54.9" height="51.9" fill="none" stroke="#333" stroke-width="1.2"/>
<line x1="1698.7" y1="1340.3" x2="1799.8" y2="1340.3" stroke="#000" stroke-width="1.3"/>
<polyline points="1948.2,1373 1948.2,1452.5 2005.5,1452.5" fill="none" stroke="#333" stroke-width="1.2" stroke-linejoin="miter"/>
<rect x="1957.8" y="1395.9" width="34.4" height="38.9" rx="6" fill="none" stroke="#000" stroke-width="1.6"/>
<rect x="1960" y="1398" width="30" height="34.7" rx="5" fill="none" stroke="#000" stroke-width="1.0"/>
<circle cx="1975" cy="1415.4" r="1.8" fill="none" stroke="#000" stroke-width="1.1"/>
<path d="M2005.1,1474.6 C2000,1469 1990,1468.5 1985.2,1474.4 L1985.2,1531.5 C1990,1537.5 2000,1537.5 2005.1,1531.5" fill="#fff" stroke="#000" stroke-width="1.4"/>
<path d="M1985.2,1487.4 L1961.3,1481.4 A24,21.9 0 0 0 1961.3,1525.2 L1985.2,1519.4" fill="#fff" stroke="#000" stroke-width="1.4"/>
<path d="M1981.9,1492.5 L1961.3,1486.4 A19,16.9 0 0 0 1961.3,1520.2 L1981.9,1516.1 Z" fill="none" stroke="#000" stroke-width="1.4"/>
<line x1="2100.7" y1="1012" x2="2100.7" y2="1131.1" stroke="#444" stroke-width="1.1"/>
<line x1="2127.2" y1="1012" x2="2127.2" y2="1131.1" stroke="#444" stroke-width="1.1"/>
<line x1="2153.3" y1="1012" x2="2153.3" y2="1131.1" stroke="#444" stroke-width="1.1"/>
<line x1="2179.3" y1="1012" x2="2179.3" y2="1131.1" stroke="#444" stroke-width="1.1"/>
<line x1="2205.4" y1="1012" x2="2205.4" y2="1131.1" stroke="#444" stroke-width="1.1"/>
<line x1="2231.5" y1="1012" x2="2231.5" y2="1131.1" stroke="#444" stroke-width="1.1"/>
<line x1="2257.5" y1="1012" x2="2257.5" y2="1131.1" stroke="#444" stroke-width="1.1"/>
<rect x="2016.3" y="1131.1" width="252.6" height="10.9" fill="none" stroke="#444" stroke-width="1.1"/>
<line x1="2106.6" y1="1549.2" x2="2681" y2="1549.2" stroke="#222" stroke-width="1.2" stroke-dasharray="29 31"/>
<line x1="2106.6" y1="1549.2" x2="2106.6" y2="1787" stroke="#222" stroke-width="1.2" stroke-dasharray="0 31 29 0"/>
<line x1="2681" y1="1549.2" x2="2681" y2="1787" stroke="#222" stroke-width="1.2" stroke-dasharray="0 31 29 0"/>
<polyline points="1502.5,1595 1502.5,1871 1535.4,1871 1535.4,2066.6 1868.1,2066.6 1868.1,1925.2 1743.4,1925.2 1743.4,1871 1776.3,1871 1776.3,1809.7 1993,1809.7" fill="none" stroke="#000" stroke-width="1.4" stroke-linejoin="miter"/>
<polyline points="1513.9,1595 1513.9,1859.6 1547.2,1859.6 1547.2,2055.2 1868.1,2055.2" fill="none" stroke="#000" stroke-width="1.4" stroke-linejoin="miter"/>
<polyline points="1868.1,1936.6 1732,1936.6 1732,1859.6 1765,1859.6 1765,1798.6 1993,1798.6" fill="none" stroke="#000" stroke-width="1.4" stroke-linejoin="miter"/>
<line x1="1547.2" y1="1870.3" x2="1732" y2="1870.3" stroke="#000" stroke-width="1.4"/>
<line x1="1547.2" y1="1901.1" x2="1732" y2="1901.1" stroke="#000" stroke-width="1.4"/>
<line x1="1547.2" y1="1931" x2="1732" y2="1931" stroke="#000" stroke-width="1.4"/>
<line x1="1742.5" y1="1936.6" x2="1742.5" y2="2055.2" stroke="#000" stroke-width="1.4"/>
<line x1="1773.3" y1="1936.6" x2="1773.3" y2="2055.2" stroke="#000" stroke-width="1.4"/>
<line x1="1805.6" y1="1936.6" x2="1805.6" y2="2055.2" stroke="#000" stroke-width="1.4"/>
<line x1="1836.7" y1="1936.6" x2="1836.7" y2="2055.2" stroke="#000" stroke-width="1.4"/>
<rect x="1521" y="1826" width="26.2" height="25.9" fill="#000"/>
<rect x="1731.4" y="1826" width="25.8" height="25.9" fill="#000"/>
<rect x="1731.4" y="1771.8" width="25.8" height="26.2" fill="#000"/>
<rect x="232.4" y="1363.4" width="473.2" height="23" fill="#231f20"/>
<rect x="232.4" y="1716" width="473.2" height="23" fill="#231f20"/>
<rect x="683" y="1363.4" width="22.6" height="375.6" fill="#231f20"/>
<rect x="232.4" y="1363.4" width="23" height="88.2" fill="#231f20"/>
<rect x="232.4" y="1646.4" width="23" height="92.6" fill="#231f20"/>
<line x1="788" y1="1438.9" x2="865" y2="1410.4" stroke="#000" stroke-width="2.2"/>
<polygon points="865,1410.4 844.1,1428.8 848.1,1416.6 837.1,1410" fill="#000" stroke="#000" stroke-width="0" stroke-linejoin="miter"/>
<line x1="839.6" y1="1466.4" x2="763" y2="1494.5" stroke="#000" stroke-width="2.2"/>
<polygon points="763,1494.5 784,1476.2 779.9,1488.3 790.9,1494.9" fill="#000" stroke="#000" stroke-width="0" stroke-linejoin="miter"/>
<text x="770.3" y="655.4" font-size="39.5" font-weight="normal" text-anchor="middle" textLength="103.6" lengthAdjust="spacingAndGlyphs" fill="#000">Deck</text>
<text x="771.5" y="701" font-size="39.5" font-weight="normal" text-anchor="middle" textLength="160" lengthAdjust="spacingAndGlyphs" fill="#000">12 x 16</text>
<text x="1248.5" y="529.2" font-size="39.5" font-weight="normal" text-anchor="middle" textLength="160.9" lengthAdjust="spacingAndGlyphs" fill="#000">Kitchen</text>
<text x="1249" y="728" font-size="39.5" font-weight="normal" text-anchor="middle" textLength="202.5" lengthAdjust="spacingAndGlyphs" fill="#000">15 x 13.4</text>
<text x="1249.2" y="773.8" font-size="39.5" font-weight="normal" text-anchor="middle" textLength="185.8" lengthAdjust="spacingAndGlyphs" fill="#000">9 Ceiling</text>
<text x="1182.1" y="600.6" font-size="24" font-weight="normal" text-anchor="middle" textLength="36.4" lengthAdjust="spacingAndGlyphs" fill="#000">DW</text>
<text x="1028.1" y="721.6" font-size="26" font-weight="normal" text-anchor="middle" textLength="33.5" lengthAdjust="spacingAndGlyphs" fill="#000">2x</text>
<text x="1027.6" y="751.4" font-size="26.5" font-weight="normal" text-anchor="middle" textLength="40.1" lengthAdjust="spacingAndGlyphs" fill="#000">OV</text>
<text x="1721.6" y="591.7" font-size="39.5" font-weight="normal" text-anchor="middle" textLength="275.8" lengthAdjust="spacingAndGlyphs" fill="#000">Dining Room</text>
<text x="1721.3" y="637.3" font-size="39.5" font-weight="normal" text-anchor="middle" textLength="162.5" lengthAdjust="spacingAndGlyphs" fill="#000">13 x 13</text>
<text x="1722.6" y="682.9" font-size="39.5" font-weight="normal" text-anchor="middle" textLength="187.4" lengthAdjust="spacingAndGlyphs" fill="#000">9 Ceiling</text>
<text x="2188.2" y="534" font-size="39.5" font-weight="normal" text-anchor="middle" textLength="374.5" lengthAdjust="spacingAndGlyphs" fill="#000">Primary Bedroom</text>
<text x="2188.5" y="578.8" font-size="39.5" font-weight="normal" text-anchor="middle" textLength="160.8" lengthAdjust="spacingAndGlyphs" fill="#000">13 x 17</text>
<text x="2188.6" y="878.5" font-size="39.5" font-weight="normal" text-anchor="middle" textLength="185.7" lengthAdjust="spacingAndGlyphs" fill="#000">9 Ceiling</text>
<text x="2608.8" y="597.7" font-size="39.5" font-weight="normal" text-anchor="middle" textLength="97.7" lengthAdjust="spacingAndGlyphs" fill="#000">Bath</text>
<text x="2610" y="642.7" font-size="39.5" font-weight="normal" text-anchor="middle" textLength="220.9" lengthAdjust="spacingAndGlyphs" fill="#000">9.9 x 10.6</text>
<text x="2597.2" y="875.4" font-size="39.5" font-weight="normal" text-anchor="middle" textLength="86.9" lengthAdjust="spacingAndGlyphs" fill="#000">WIC</text>
<text x="2595" y="921.2" font-size="39.5" font-weight="normal" text-anchor="middle" textLength="151.8" lengthAdjust="spacingAndGlyphs" fill="#000">9.9 x 6</text>
<text x="1307.3" y="1030" font-size="39.5" font-weight="normal" text-anchor="middle" textLength="264" lengthAdjust="spacingAndGlyphs" fill="#000">Living Room</text>
<text x="1307.2" y="1074.7" font-size="39.5" font-weight="normal" text-anchor="middle" textLength="159.9" lengthAdjust="spacingAndGlyphs" fill="#000">17 x 21</text>
<text x="1307.5" y="1402" font-size="39.5" font-weight="normal" text-anchor="middle" textLength="254.8" lengthAdjust="spacingAndGlyphs" fill="#000">18.2 Ceiling</text>
<text x="1778.3" y="1082.6" font-size="30" font-weight="normal" text-anchor="middle" textLength="72.5" lengthAdjust="spacingAndGlyphs" fill="#000">STG</text>
<text x="1847.5" y="1201.8" font-size="39.5" font-weight="normal" text-anchor="middle" textLength="171.9" lengthAdjust="spacingAndGlyphs" fill="#000">Laundry</text>
<text x="1848.5" y="1245.9" font-size="39.5" font-weight="normal" text-anchor="middle" textLength="192.7" lengthAdjust="spacingAndGlyphs" fill="#000">8.5 x 6.3</text>
<text x="1630.6" y="1447.4" font-size="39.5" font-weight="normal" text-anchor="middle" textLength="57" lengthAdjust="spacingAndGlyphs" fill="#000">Up</text>
<text x="1877.8" y="1430.3" font-size="31" font-weight="normal" text-anchor="middle" textLength="79.9" lengthAdjust="spacingAndGlyphs" fill="#000">PWD</text>
<text x="2380.5" y="1329.3" font-size="39.5" font-weight="normal" text-anchor="middle" textLength="283.5" lengthAdjust="spacingAndGlyphs" fill="#000">2 Car Garage</text>
<text x="2380" y="1373.6" font-size="39.5" font-weight="normal" text-anchor="middle" textLength="203.7" lengthAdjust="spacingAndGlyphs" fill="#000">21.9 x 24</text>
<text x="2381.2" y="1419.3" font-size="39.5" font-weight="normal" text-anchor="middle" textLength="256.6" lengthAdjust="spacingAndGlyphs" fill="#000">13.2 Ceiling</text>
<text x="1742.6" y="1684.6" font-size="39.5" font-weight="normal" text-anchor="middle" textLength="308.5" lengthAdjust="spacingAndGlyphs" fill="#000">Covered Porch</text>
<text x="1743.4" y="1729.6" font-size="39.5" font-weight="normal" text-anchor="middle" textLength="219.8" lengthAdjust="spacingAndGlyphs" fill="#000">14.5 x 6.5</text>
<text x="469" y="1492.8" font-size="39.5" font-weight="normal" text-anchor="middle" textLength="166.1" lengthAdjust="spacingAndGlyphs" fill="#000">Storage</text>
<text x="467.9" y="1538.5" font-size="39.5" font-weight="normal" text-anchor="middle" textLength="124.4" lengthAdjust="spacingAndGlyphs" fill="#000">Below</text>
<text x="469.7" y="1583.8" font-size="39.5" font-weight="normal" text-anchor="middle" textLength="320.3" lengthAdjust="spacingAndGlyphs" fill="#000">(Concrete Pad)</text>
<text x="469" y="1630.2" font-size="39.5" font-weight="normal" text-anchor="middle" textLength="247.7" lengthAdjust="spacingAndGlyphs" fill="#000">14.7 x 12.4</text>
<text x="728.1" y="1954.8" font-size="66.5" font-weight="bold" text-anchor="middle" textLength="634.2" lengthAdjust="spacingAndGlyphs" fill="#000" stroke="#000" stroke-width="1.4" stroke-linejoin="round">15 Cedar Wood Ct</text>
<text x="727.1" y="2031.8" font-size="66.5" font-weight="bold" text-anchor="middle" textLength="362.3" lengthAdjust="spacingAndGlyphs" fill="#000" stroke="#000" stroke-width="1.4" stroke-linejoin="round">First Floor</text>
<text x="728.3" y="2097" font-size="46" font-weight="normal" text-anchor="middle" textLength="1012.7" lengthAdjust="spacingAndGlyphs" fill="#000">Drawings are not to scale. Drawings &amp; room</text>
<text x="728.1" y="2151.4" font-size="46" font-weight="normal" text-anchor="middle" textLength="1028.2" lengthAdjust="spacingAndGlyphs" fill="#000">dimensions are for illustration purposes only.</text>
<text x="242.5" y="2236.6" font-size="68" text-anchor="middle" textLength="480" lengthAdjust="spacingAndGlyphs" fill="#000">©2023 NCRMLS</text>
<text x="245" y="2236.6" font-size="68" text-anchor="middle" textLength="480" lengthAdjust="spacingAndGlyphs" fill="#fff">©2023 NCRMLS</text>
</svg>
</body></html>
